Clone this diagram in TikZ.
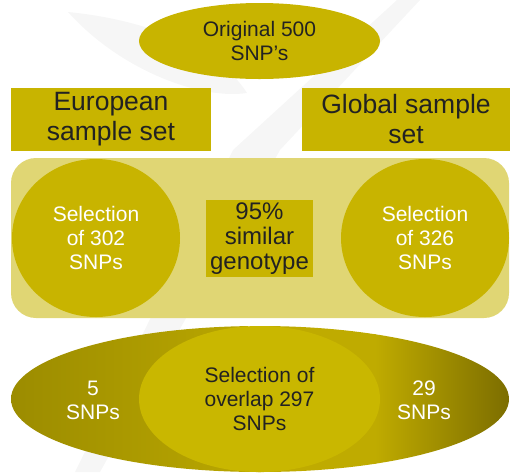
\documentclass[tikz,border=0pt]{standalone}
\usepackage{fontspec}
\setmainfont{Liberation Sans}
\usetikzlibrary{shapes.geometric}
\definecolor{oliveA}{HTML}{C8B400}
\definecolor{oliveB}{HTML}{C9B700}
\definecolor{panelA}{HTML}{E0D674}
\definecolor{darkL}{HTML}{8A7C00}
\definecolor{lightL}{HTML}{C6B200}
\definecolor{lightR}{HTML}{BFAB00}
\definecolor{darkR}{HTML}{7C6D00}
\definecolor{txtA}{HTML}{222222}
\definecolor{wmark}{HTML}{F6F6F6}
\tikzset{
  olivebox/.style={rectangle, fill=oliveA, inner sep=0pt, align=center, text=txtA},
  oliveell/.style={ellipse, fill=oliveA, inner sep=0pt, align=center},
  fmid/.style={font=\fontsize{21}{24}\selectfont},
  fbig/.style={font=\fontsize{26.5}{30}\selectfont},
}
\begin{document}
\begin{tikzpicture}[x=1pt,y=-1pt]
\useasboundingbox (0,0) rectangle (516,472);
% faint watermark
\fill[wmark] (68,12) .. controls (150,20) and (220,50) .. (247,93) .. controls (200,100) and (120,70) .. cycle;
\fill[wmark] (397,0) -- (420,0) -- (280,150) -- (100,472) -- (75,472) -- (233,150) -- cycle;
% top ellipse
\node[oliveell, text=txtA, fmid, minimum width=241pt, minimum height=76pt] (orig) at (259.5,41) {Original 500\\SNP’s};
% sample set boxes
\node[olivebox, fbig, minimum width=200pt, minimum height=63pt] (eur) at (111,119.5) {European\\sample set};
\node[olivebox, fbig, minimum width=208pt, minimum height=63pt] (glob) at (406,119.5) {Global sample\\set};
% panel
\node[rectangle, rounded corners=25pt, fill=panelA, minimum width=498pt, minimum height=160pt] (panel) at (260,238) {};
\node[oliveell, text=white, fmid, minimum width=168pt, minimum height=158pt] (left) at (96,238) {Selection\\of 302\\SNPs};
\node[oliveell, text=white, fmid, minimum width=168pt, minimum height=158pt] (right) at (425,238) {Selection\\of 326\\SNPs};
\node[olivebox, font=\fontsize{24}{25}\selectfont, minimum width=107pt, minimum height=77pt] (mid) at (259.5,238.5) {95\%\\similar\\genotype};
% bottom ellipse
\node[ellipse, inner sep=0pt, minimum width=498pt, minimum height=146pt] (bot) at (260,399) {};
\begin{scope}
  \clip (bot.center) ellipse [x radius=249pt, y radius=73pt];
  \begin{scope}
    \clip (0,300) rectangle (260,480);
    \shade[rotate around={-45:(110,399)}, left color=darkL, right color=lightL] (-80,250) rectangle (300,550);
  \end{scope}
  \begin{scope}
    \clip (260,300) rectangle (516,480);
    \shade[left color=lightR, right color=darkR] (375,300) rectangle (510,480);
    \fill[lightR] (259,300) rectangle (376,480);
  \end{scope}
\end{scope}
\node[ellipse, fill=oliveB, inner sep=0pt, align=center, text=txtA, fmid, minimum width=241pt, minimum height=146pt] (inner) at (259.5,399) {Selection of\\overlap 297\\SNPs};
\node[align=center, text=white, fmid, inner sep=0pt] (five) at (93,400) {5\\SNPs};
\node[align=center, text=white, fmid, inner sep=0pt] (twentynine) at (424,400) {29\\SNPs};
\end{tikzpicture}
\end{document}
